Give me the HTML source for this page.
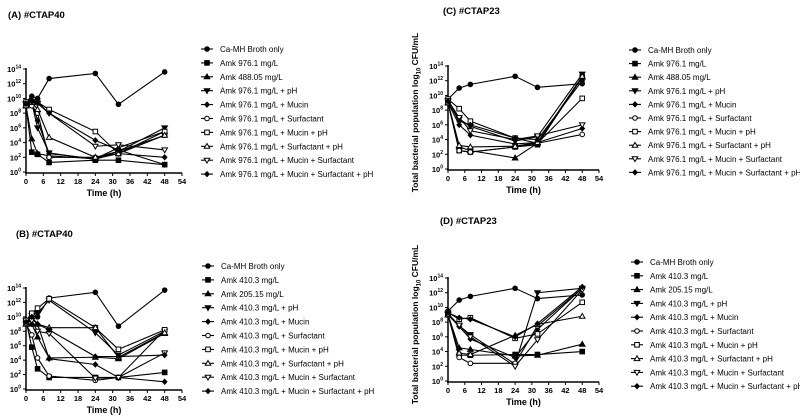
<!DOCTYPE html>
<html><head><meta charset="utf-8"><style>
html,body{margin:0;padding:0;background:#fff;}
#wrap{width:800px;height:419px;overflow:hidden;position:relative;}
svg{font-family:"Liberation Sans",Arial,sans-serif;}
</style></head><body>
<div id="wrap">
<svg id="fig" width="800" height="419" viewBox="0 0 800 419"></svg>
</div>
<script>
const xTicks = [0,6,12,18,24,30,36,42,48,54];
const yTicks = [0,2,4,6,8,10,12,14];
const timesAB = [0,2,4,8,24,32,48];
const timesCD = [0,4,8,24,32,48];
const labelsA = ["Ca-MH Broth only","Amk 976.1 mg/L","Amk 488.05 mg/L","Amk 976.1 mg/L + pH","Amk 976.1 mg/L + Mucin","Amk 976.1 mg/L + Surfactant","Amk 976.1 mg/L + Mucin + pH","Amk 976.1 mg/L + Surfactant + pH","Amk 976.1 mg/L + Mucin + Surfactant","Amk 976.1 mg/L + Mucin + Surfactant + pH"];
const labelsB = ["Ca-MH Broth only","Amk 410.3 mg/L","Amk 205.15 mg/L","Amk 410.3 mg/L + pH","Amk 410.3 mg/L + Mucin","Amk 410.3 mg/L + Surfactant","Amk 410.3 mg/L + Mucin + pH","Amk 410.3 mg/L + Surfactant + pH","Amk 410.3 mg/L + Mucin + Surfactant","Amk 410.3 mg/L + Mucin + Surfactant + pH"];
const seriesA = [
 [9.5,10.3,10,12.7,13.4,9.2,13.6],
 [9,2.7,2.4,1.3,1.6,1.6,1],
 [9,4.5,2.5,2.2,1.8,3.3,5.5],
 [9.2,9.4,6,2.6,1.7,2.8,6],
 [9,9.5,7,2.5,1.8,2.5,2],
 [9,9,8,2,2,2.8,5],
 [9.5,9.5,9.5,8.5,5.5,2.5,5.5],
 [9,9.5,8.5,4.7,2,2.5,5],
 [9.3,9.6,9.3,8,3.5,3.7,3],
 [9.3,9.7,9.5,8,4.3,3,1]
];
const seriesB = [
 [9.5,10,10,12.6,13.4,8.7,13.7],
 [9.5,5.8,2.8,1.6,1.6,1.6,2.3],
 [9,9,7.2,4.3,4.4,4.2,7.7],
 [9.5,10.2,10.5,12.3,7.8,4.7,8],
 [9,9,9,4.2,3.4,1.6,1],
 [9,7.5,4.3,1.8,1.2,1.6,8.2],
 [9.5,10.5,11.2,12.5,8.5,5.5,8.2],
 [9,9.7,9,8.5,8.5,4.4,7.8],
 [9,9.5,8,7.7,1.5,1.6,5],
 [9.3,10,9,8.2,4.5,4.5,4.7]
];
const seriesC = [
 [9.5,11,11.5,12.6,11.1,11.6],
 [9,2.5,2.3,3,3.3,12.5],
 [9,3,2.5,1.5,3.5,12.5],
 [9.2,6.8,5.8,3.8,4.4,12.9],
 [9,6,4.6,3.4,3.6,5.5],
 [9,2.5,2.3,3,3.5,4.7],
 [9.5,8.2,6.5,4.2,3.5,9.6],
 [9,3.2,3,3.1,3.6,12.6],
 [9.3,7,5.2,4,4.5,6],
 [9.2,6.5,6,4.2,4,12]
];
const seriesD = [
 [9.5,11,11.5,12.6,11.2,11.7],
 [9,3.5,3.5,3.6,3.6,4],
 [9,4.5,4.3,3.4,3.5,5],
 [9.2,7.5,6.3,2.3,12,12.6],
 [9,7.4,5.7,3.2,7,12.6],
 [9,3.2,2.4,2.4,7.5,12.6],
 [9.3,8.4,8.6,5.8,6.4,10.7],
 [9,3.8,3.6,6.2,7.7,8.8],
 [9,7.6,6,2,5.6,12.4],
 [9.3,8.6,8.4,6,7.8,12.8]
];
const markers = ["circle","square","up","down","diamond","ocircle","osquare","oup","odown","diamond2"];

const NS = "http://www.w3.org/2000/svg";
const svg = document.getElementById('fig');
function el(tag, attrs, parent){
  const e = document.createElementNS(NS, tag);
  for (const k in attrs) e.setAttribute(k, attrs[k]);
  (parent||svg).appendChild(e);
  return e;
}
function marker(g, type, x, y){
  const open = type.startsWith('o');
  const fill = open ? '#fff' : '#000';
  const t = open ? type.slice(1) : type;
  const st = {fill:fill, stroke:'#000', 'stroke-width':1};
  let m;
  if (t==='circle') m = el('circle', Object.assign({cx:x,cy:y,r:2.3},st), g);
  else if (t==='square') m = el('rect', Object.assign({x:x-2.3,y:y-2.3,width:4.6,height:4.6},st), g);
  else if (t==='up') m = el('polygon', Object.assign({points:`${x},${y-2.8} ${x+2.8},${y+2} ${x-2.8},${y+2}`},st), g);
  else if (t==='down') m = el('polygon', Object.assign({points:`${x},${y+2.8} ${x+2.8},${y-2} ${x-2.8},${y-2}`},st), g);
  else m = el('polygon', Object.assign({points:`${x},${y-2.5} ${x+2.3},${y} ${x},${y+2.5} ${x-2.3},${y}`},st), g);
  
  
}
function panel(p){
  const g = el('g', {});
  
  
  const xs = v => p.x0 + (p.x1 - p.x0) * v / 54;
  const ys = v => p.yb - (p.yb - p.yt) * v / 14;
  const t = el('text', {x:p.tx, y:p.ty, 'font-size':9.5, 'font-weight':'bold'}, g);
  t.textContent = p.title;
  
  
  // axes
  const ya = el('line', {x1:p.x0, x2:p.x0, y1:p.yt-1, y2:p.yb+1, stroke:'#000','stroke-width':1.5}, g);
   
  const xa = el('line', {x1:p.x0-1, x2:p.x1, y1:p.yb+1, y2:p.yb+1, stroke:'#000','stroke-width':1.5}, g);
   
  yTicks.forEach(v => {
    const y = ys(v);
    el('line', {x1:p.x0-3, x2:p.x0, y1:y, y2:y, stroke:'#000','stroke-width':1}, g);
    const tx = el('text', {x:p.x0-5, y:y+3, 'font-size':7.5, 'font-weight':'bold','text-anchor':'end'}, g);
    
    
    const a = el('tspan', {}, tx); a.textContent = '10';
    const b = el('tspan', {dy:-3.5, 'font-size':5}, tx); b.textContent = String(v);
  });
  xTicks.forEach(v => {
    const x = xs(v);
    el('line', {x1:x, x2:x, y1:p.yb+1, y2:p.yb+4, stroke:'#000','stroke-width':1}, g);
    const tx = el('text', {x:x, y:p.yb+12, 'font-size':7.5, 'font-weight':'bold','text-anchor':'middle'}, g);
    tx.textContent = String(v);
    
    
  });
  const xt = el('text', {x:(p.x0+p.x1)/2, y:p.yb+24, 'font-size':9, 'font-weight':'bold','text-anchor':'middle'}, g);
  xt.textContent = 'Time (h)';
   
  if (p.ytitle){
    const cy = (p.yt + p.yb)/2 - 5;
    const yt = el('text', {x:0, y:0, 'font-size':8.5, 'font-weight':'bold','text-anchor':'middle', transform:`translate(${p.x0-30},${cy}) rotate(-90)`}, g);
     
    const a = el('tspan', {}, yt); a.textContent = 'Total bacterial population log';
    const b = el('tspan', {dy:2.5,'font-size':6}, yt); b.textContent = '10';
    const c = el('tspan', {dy:-2.5}, yt); c.textContent = ' CFU/mL';
  }
  p.series.forEach((s, i) => {
    const sg = el('g', {}, g);
    
    
    const pts = s.map((v, j) => xs(p.times[j]) + ',' + ys(v)).join(' ');
    el('polyline', {points:pts, fill:'none', stroke:'#000', 'stroke-width':1.1}, sg);
    s.forEach((v, j) => marker(sg, markers[i], xs(p.times[j]), ys(v)));
  });
  // legend
  const lg = el('g', {}, g);
  
  
  p.labels.forEach((lab, i) => {
    const y = p.ly + i * p.lsp;
    const eg = el('g', {}, lg);
    
    
    el('line', {x1:p.lx-6, x2:p.lx+6, y1:y, y2:y, stroke:'#000','stroke-width':1.1}, eg);
    marker(eg, markers[i], p.lx, y);
    const tx = el('text', {x:p.lx+13, y:y+3, 'font-size':8}, eg);
    tx.textContent = lab;
  });
}
panel({id:'a', title:'(A) #CTAP40', tx:8, ty:18, x0:26, x1:182, yt:69, yb:172, times:timesAB, series:seriesA, labels:labelsA, lx:207, ly:49, lsp:13.9});
panel({id:'b', title:'(B) #CTAP40', tx:16, ty:237, x0:26, x1:182, yt:288, yb:389, times:timesAB, series:seriesB, labels:labelsB, lx:208, ly:266, lsp:13.9});
panel({id:'c', title:'(C) #CTAP23', tx:443, ty:14, x0:448, x1:599, yt:66, yb:169, times:timesCD, series:seriesC, labels:labelsA, lx:635, ly:50, lsp:13.6, ytitle:true});
panel({id:'d', title:'(D) #CTAP23', tx:440, ty:224, x0:448, x1:599, yt:278, yb:381, times:timesCD, series:seriesD, labels:labelsB, lx:637, ly:262, lsp:13.8, ytitle:true});
</script>
</body></html>
